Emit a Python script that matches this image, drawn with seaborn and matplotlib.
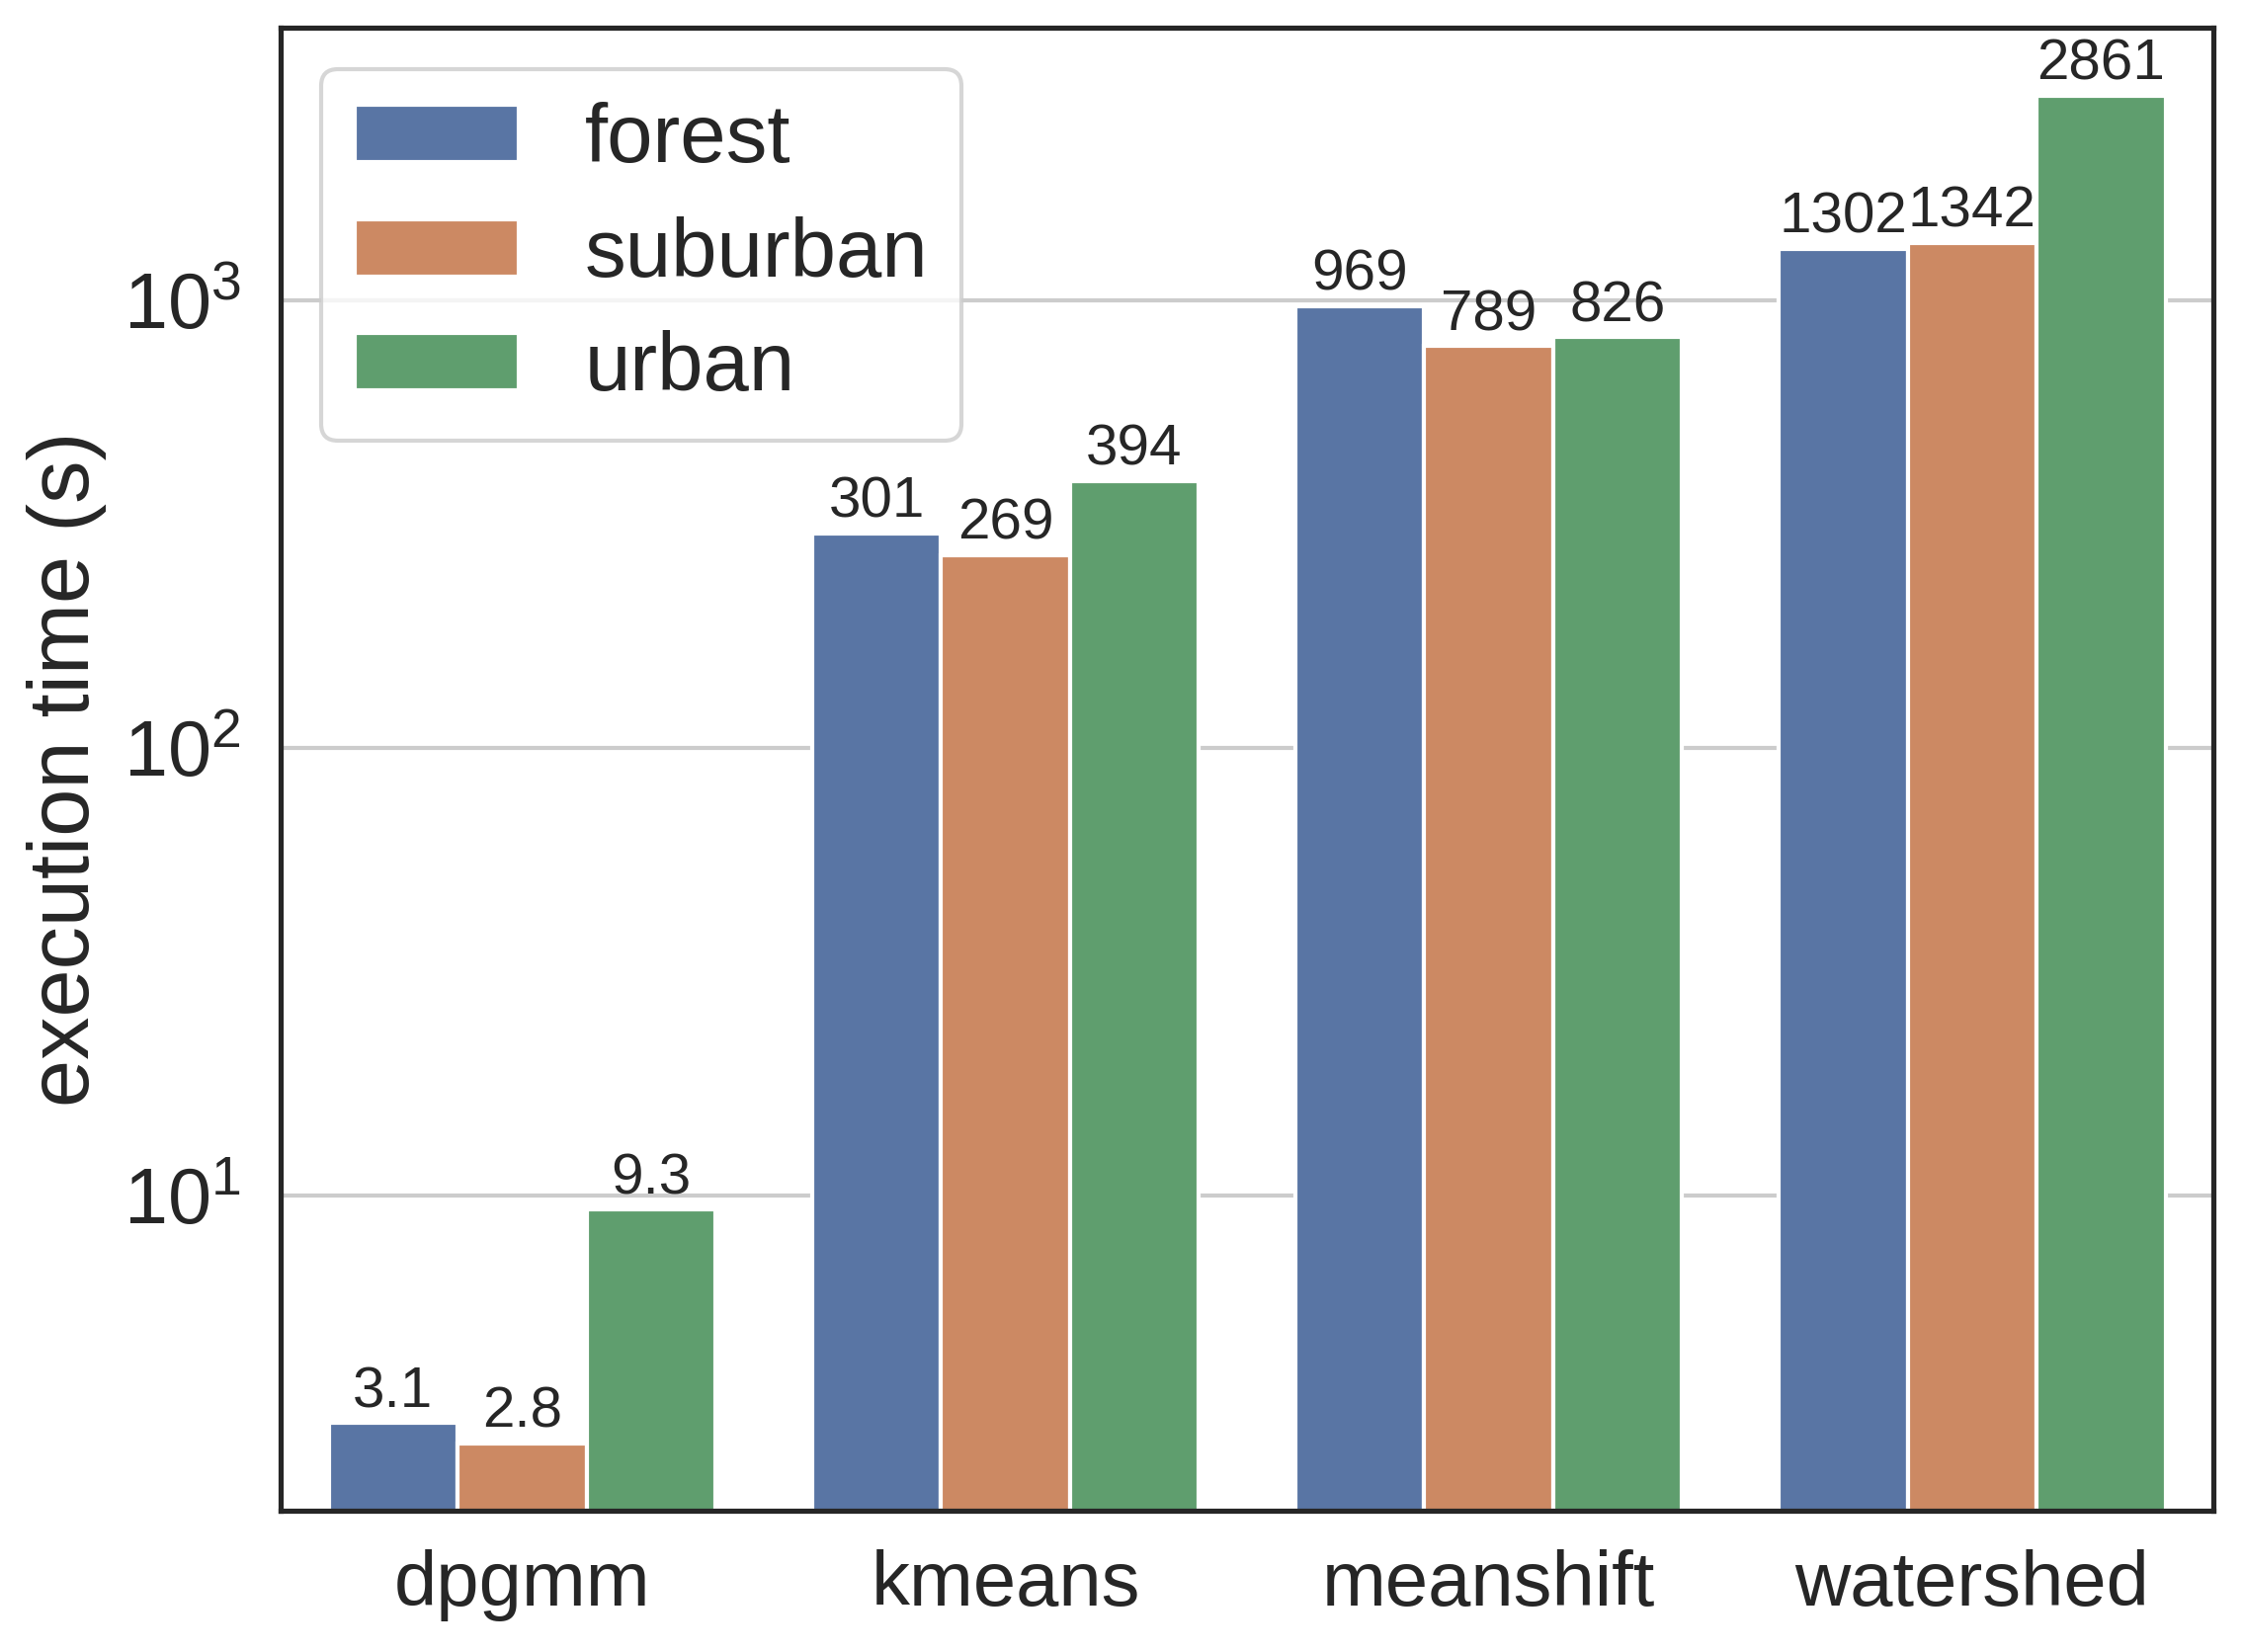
import matplotlib
matplotlib.use("Agg")
import matplotlib.pyplot as plt
import seaborn as sns
import pandas as pd

# Execution time per algorithm and scene (seconds)
algorithms = ["dpgmm", "kmeans", "meanshift", "watershed"]
scenes = ["forest", "suburban", "urban"]
forest = [3.1, 301, 969, 1302]
suburban = [2.8, 269, 789, 1342]
urban = [9.3, 394, 826, 2861]

sns.set_theme(style="white")
plt.rcParams["font.family"] = ["Liberation Sans", "DejaVu Sans"]
plt.rcParams["mathtext.fontset"] = "custom"
plt.rcParams["mathtext.rm"] = "Liberation Sans"
plt.rcParams["mathtext.it"] = "Liberation Sans:italic"
plt.rcParams["mathtext.bf"] = "Liberation Sans:bold"

rows = []
for scene, vals in zip(scenes, [forest, suburban, urban]):
    for alg, v in zip(algorithms, vals):
        rows.append({"algorithm": alg, "scene": scene, "time": v})
df = pd.DataFrame(rows)

fig, ax = plt.subplots(figsize=(2270 / 300, 1672 / 300), dpi=300)

sns.barplot(data=df, x="algorithm", y="time", hue="scene",
            order=algorithms, hue_order=scenes, ax=ax)
ax.set_yscale("log")
ax.set_ylim(1.98, 4050)
ax.set_xlim(-0.5, 3.5)

# value labels on top of bars
for container, vals in zip(ax.containers, [forest, suburban, urban]):
    ax.bar_label(container, labels=[f"{v:g}" for v in vals], fontsize=14,
                 padding=1, color="#262626")

ax.yaxis.grid(True, color=".8", linewidth=1)
ax.xaxis.grid(False)
ax.set_axisbelow(True)
for s in ax.spines.values():
    s.set_color("#262626")
    s.set_linewidth(1.25)

ax.set_xlabel("")
ax.set_ylabel("execution time (s)", fontsize=20.8)
ax.tick_params(axis="x", labelsize=18.7)
ax.tick_params(axis="y", labelsize=19)
ax.tick_params(axis="y", which="minor", left=False)

leg = ax.legend(loc="upper left", fontsize=20, frameon=True, labelspacing=0.45)
leg.get_frame().set_edgecolor(".8")

fig.subplots_adjust(left=0.125, right=0.987, top=0.983, bottom=0.0857)
fig.savefig("out.png", dpi=300)
